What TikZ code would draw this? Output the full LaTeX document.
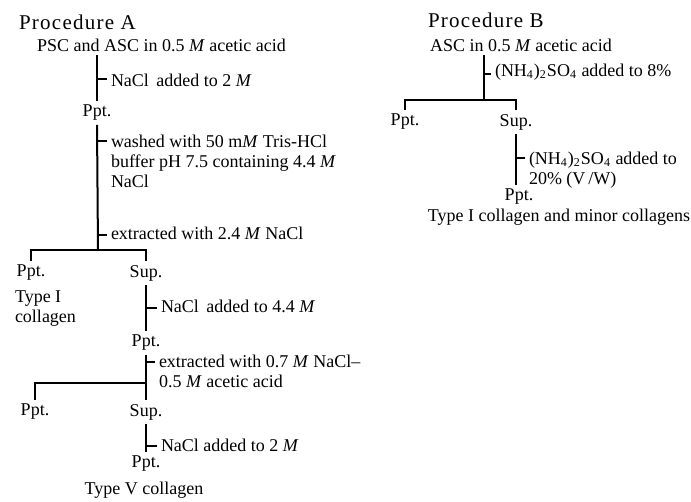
\documentclass[tikz,border=0pt]{standalone}
\usepackage{fontspec}
\setmainfont{Liberation Serif}
\newfontfamily\headfont[LetterSpace=6]{Liberation Serif}
\newcommand{\nh}{(NH\textsubscript{4})\textsubscript{2}SO\textsubscript{4}}
\begin{document}
\begin{tikzpicture}[x=0.5pt,y=-0.5pt,
  line width=1pt,
  txt/.style={inner sep=1.5pt,font=\fontsize{9}{10}\selectfont},
  lbl/.style={txt,align=left},
  head/.style={inner sep=0pt,font=\headfont\fontsize{10.5}{12}\selectfont}]
  \useasboundingbox (0,0) rectangle (691,502);
  % Procedure A
  \node[head,anchor=west] (ha) at (18,22) {Procedure A};
  \node[txt,anchor=west] (a1) at (33,45) {PSC and ASC in 0.5 \textit{M} acetic acid};
  \node[txt] (a2) at (97,113) {Ppt.};
  \node[txt] (a3) at (31,273) {Ppt.};
  \node[txt] (a4) at (146,273) {Sup.};
  \node[txt] (a5) at (146,343) {Ppt.};
  \node[txt] (a6) at (35,412) {Ppt.};
  \node[txt] (a7) at (146,412) {Sup.};
  \node[txt] (a8) at (146,464) {Ppt.};
  \node[lbl,anchor=north west] (l4) at (11,287) {Type I\\collagen};
  \node[txt] (l8) at (144,490) {Type V collagen};
  \coordinate (b1) at (98,250);
  \coordinate (b2) at (146,383);
  \coordinate (t1) at (98,79);
  \coordinate (t2) at (98,141);
  \coordinate (t3) at (98,235);
  \coordinate (t4) at (146,308);
  \coordinate (t5) at (146,362);
  \coordinate (t6) at (146,446);
  \node[txt,anchor=west] (l1) at (107,80) {NaCl\, added to 2 \textit{M}};
  \node[lbl,anchor=north west] (l2) at (107,131) {washed with 50 m\textit{M} Tris-HCl\\buffer pH 7.5 containing 4.4 \textit{M}\\NaCl};
  \node[txt,anchor=west] (l3) at (107,233) {extracted with 2.4 \textit{M} NaCl};
  \node[txt,anchor=west] (l5) at (157,306) {NaCl\, added to 4.4 \textit{M}};
  \node[lbl,anchor=north west] (l6) at (155,351) {extracted with 0.7 \textit{M} NaCl--\\0.5 \textit{M} acetic acid};
  \node[txt,anchor=west] (l7) at (157,445) {NaCl added to 2 \textit{M}};
  \draw (a1.south -| a2) -- (a2.north);
  \draw (a2.south) -- (b1);
  \draw (a3.north) |- (b1) -| (a4.north);
  \draw (a4.south) -- (a5.north);
  \draw (a5.south) -- (a7.north);
  \draw (a6.north) |- (b2);
  \draw (a7.south) -- (a8.north);
  \draw (t1) -- (t1 -| l1.west);
  \draw (t2) -- (t2 -| l2.west);
  \draw (t3) -- (t3 -| l3.west);
  \draw (t4) -- (t4 -| l5.west);
  \draw (t5) -- (t5 -| l6.west);
  \draw (t6) -- (t6 -| l7.west);
  % Procedure B
  \node[head,anchor=west] (hb) at (427,20) {Procedure B};
  \node[txt] (c1) at (521,45) {ASC in 0.5 \textit{M} acetic acid};
  \node[txt] (c2) at (405,122) {Ppt.};
  \node[txt] (c3) at (516,122) {Sup.};
  \node[txt] (c4) at (519,197) {Ppt.};
  \node[txt] (l11) at (559,217) {Type I collagen and minor collagens};
  \coordinate (d1) at (484,100);
  \coordinate (t7) at (484,74);
  \coordinate (t8) at (516,158);
  \node[txt,anchor=west] (l9) at (491,72) {\nh\ added to 8\%};
  \node[lbl,anchor=north west] (l10) at (525,148) {\nh\ added to\\20\% (V\,/W)};
  \draw (c1.south -| d1) -- (d1);
  \draw (c2.north) |- (d1) -| (c3.north);
  \draw (c3.south) -- (c3.south |- c4.north);
  \draw (t7) -- (t7 -| l9.west);
  \draw (t8) -- (t8 -| l10.west);
\end{tikzpicture}
\end{document}
